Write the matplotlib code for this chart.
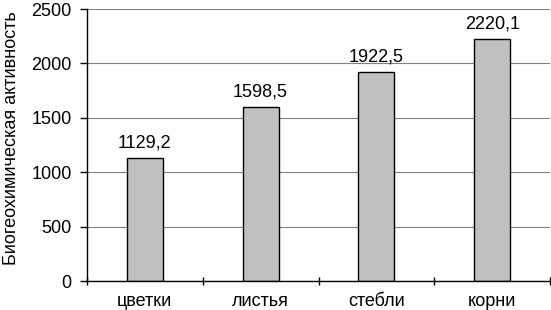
import matplotlib
matplotlib.use("Agg")
import matplotlib.pyplot as plt
from matplotlib.ticker import FixedLocator, NullFormatter

categories = ["цветки", "листья", "стебли", "корни"]
values = [1129.2, 1598.5, 1922.5, 2220.1]
labels = ["1129,2", "1598,5", "1922,5", "2220,1"]
yticks = [0, 500, 1000, 1500, 2000, 2500]

plt.rcParams['font.family'] = ['Liberation Sans', 'DejaVu Sans']
FS = 13

fig = plt.figure(figsize=(5.51, 3.10), dpi=100)
ax = fig.add_axes([87/551, 29/310, 463/551, 272/310])

x = list(range(len(categories)))
ax.bar(x, values, width=0.31, color="#c0c0c0", edgecolor="black", linewidth=1.0, zorder=3)
for xi, v, lab in zip(x, values, labels):
    ax.text(xi, v + 60, lab, ha="center", va="bottom", fontsize=FS, zorder=4)

ax.set_xlim(-0.5, len(categories) - 0.5)
ax.set_ylim(0, 2500)
ax.set_yticks(yticks)
ax.set_yticklabels([str(t) for t in yticks], fontsize=FS)
ax.set_xticks(x)
ax.set_xticklabels(categories, fontsize=FS)
ax.xaxis.set_minor_locator(FixedLocator([i - 0.5 for i in range(len(categories) + 1)]))
ax.xaxis.set_minor_formatter(NullFormatter())
ax.tick_params(axis="x", which="major", length=0, pad=9)
ax.tick_params(axis="x", which="minor", length=6, width=1, direction="inout")
ax.tick_params(axis="y", length=5, width=1, direction="out", pad=6)

ax.grid(axis="y", color="#808080", linewidth=0.8, zorder=0)
for s in ["top", "right"]:
    ax.spines[s].set_visible(False)
ax.spines["left"].set_linewidth(1)
ax.spines["bottom"].set_linewidth(1)
ax.spines["left"].set_zorder(5)
ax.spines["bottom"].set_zorder(5)

ax.set_ylabel("Биогеохимическая активность", fontsize=FS)
ax.yaxis.set_label_coords(-0.145, 0.526)

fig.savefig("out.png", dpi=100)
